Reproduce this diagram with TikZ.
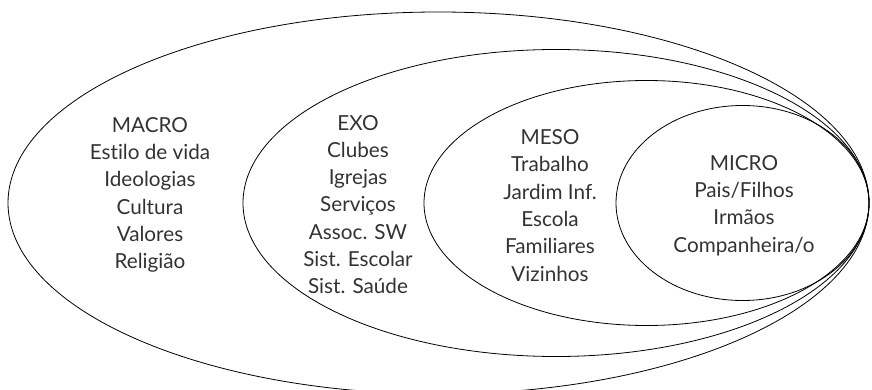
\documentclass[tikz,border=0pt]{standalone}
\usepackage{fontspec}
\setmainfont[Ligatures=NoCommon]{Lato}
\usepackage{tikz}

\tikzset{lbl/.style={align=center, font=\fontsize{20.7}{27.3}\selectfont, text=black!80}}

\begin{document}
\begin{tikzpicture}[x=1pt, y=1pt]
  \clip (0,0) rectangle (872,389);
  \foreach \cx/\rx/\ry in {438.5/430.5/191, 556/313/153.5, 646.5/222.5/122.5, 742.5/126.5/97.5}{ \draw[line width=0.8pt] (\cx,186) ellipse [x radius=\rx pt, y radius=\ry pt]; }
  \node[lbl] (macro) at (150,194) {MACRO\\Estilo de vida\\Ideologias\\Cultura\\Valores\\Religião};
  \node[lbl] (exo) at (358,184.5) {EXO\\Clubes\\Igrejas\\Serviços\\Assoc. SW\\Sist. Escolar\\Sist. Saúde};
  \node[lbl] (meso) at (550,183.5) {MESO\\Trabalho\\Jardim Inf.\\Escola\\Familiares\\Vizinhos};
  \node[lbl] (micro) at (744,183.5) {MICRO\\Pais/Filhos\\Irmãos\\Companheira/o};
\end{tikzpicture}
\end{document}
